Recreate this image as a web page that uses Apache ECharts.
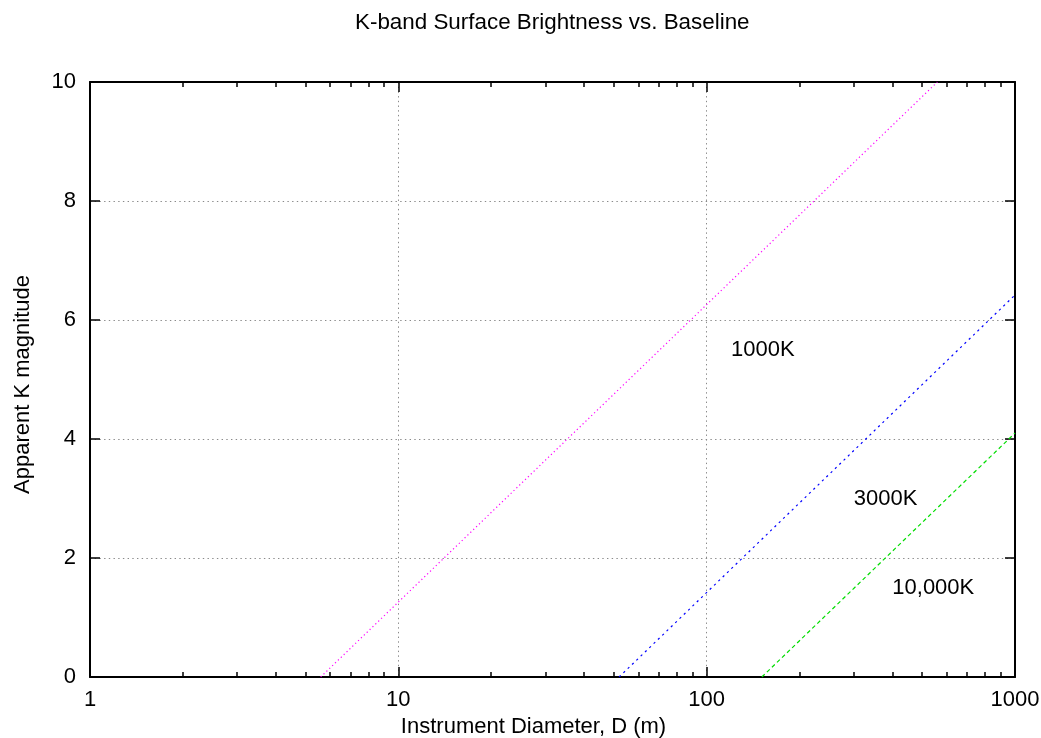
<!DOCTYPE html>
<html>
<head>
<meta charset="utf-8">
<script src="https://cdn.jsdelivr.net/npm/echarts@6/dist/echarts.min.js"></script>
<style>
  html, body { margin: 0; padding: 0; background: #fff; }
  #chart { width: 1041px; height: 738px; }
</style>
</head>
<body>
<div id="chart"></div>
<script>
// Apparent K-band magnitude at which a source of given temperature is
// resolved by an instrument of diameter D (straight lines in log D).
const magenta1000K = [[5.6, 0], [560, 10]];
const blue3000K = [[52, 0], [1000, 6.42]];
const green10000K = [[151, 0], [1000, 4.1]];

// Curve labels placed in data coordinates
const labelNames = ['1000K', '3000K', '10,000K'];
const labelX = [120, 300, 400];
const labelY = [5.5, 3, 1.5];

// Axis ticks
const xMajorTicks = [1, 10, 100, 1000];
const xMinorTicks = [2, 3, 4, 5, 6, 7, 8, 9, 20, 30, 40, 50, 60, 70, 80, 90,
                     200, 300, 400, 500, 600, 700, 800, 900];
const yTicks = [0, 2, 4, 6, 8, 10];

const FONT = 'Liberation Sans, Arial, Helvetica, sans-serif';
const gridDash = { color: '#8a8a8a', width: 1, type: [1.4, 3.3] };

function xAxisDef(pos, ticks, len, withLine, withLabels, withSplit) {
  return {
    type: 'log', logBase: 10, min: 1, max: 1000, position: pos,
    axisLine: { show: withLine, onZero: false, lineStyle: { color: '#000', width: 2 } },
    axisTick: { show: true, inside: true, length: len, customValues: ticks,
                lineStyle: { color: '#000', width: 1.5 } },
    axisLabel: { show: withLabels, customValues: xMajorTicks, margin: 12,
                 formatter: v => String(v),
                 color: '#000', fontFamily: FONT, fontSize: 22 },
    splitLine: { show: withSplit, lineStyle: gridDash },
    name: withLabels ? 'Instrument Diameter, D (m)' : '',
    nameLocation: 'middle', nameGap: 25,
    nameTextStyle: { color: '#000', fontFamily: FONT, fontSize: 22, padding: [0, 38, 0, 0] }
  };
}

const chart = echarts.init(document.getElementById('chart'), null, { renderer: 'canvas' });
chart.setOption({
  backgroundColor: '#fff',
  animation: false,
  title: {
    text: 'K-band Surface Brightness vs. Baseline',
    left: 350, top: 7,
    textStyle: { color: '#000', fontFamily: FONT, fontSize: 22.4, fontWeight: 'normal' }
  },
  grid: { left: 90, right: 26, top: 82, bottom: 61, containLabel: false, outerBoundsMode: 'none' },
  xAxis: [
    xAxisDef('bottom', xMajorTicks, 10, true, true, true),
    xAxisDef('bottom', xMinorTicks, 5, false, false, false),
    xAxisDef('top', xMajorTicks, 10, true, false, false),
    xAxisDef('top', xMinorTicks, 5, false, false, false)
  ],
  yAxis: [
    {
      type: 'value', min: 0, max: 10, interval: 2, position: 'left',
      axisLine: { show: true, onZero: false, lineStyle: { color: '#000', width: 2 } },
      axisTick: { show: true, inside: true, length: 10, customValues: yTicks,
                  lineStyle: { color: '#000', width: 1.5 } },
      axisLabel: { customValues: yTicks, margin: 14, color: '#000', fontFamily: FONT, fontSize: 22 },
      splitLine: { show: true, lineStyle: gridDash },
      name: 'Apparent K magnitude', nameLocation: 'middle', nameGap: 56,
      nameTextStyle: { color: '#000', fontFamily: FONT, fontSize: 22, padding: [0, 10, 0, 0] }
    },
    {
      type: 'value', min: 0, max: 10, interval: 2, position: 'right',
      axisLine: { show: true, onZero: false, lineStyle: { color: '#000', width: 2 } },
      axisTick: { show: true, inside: true, length: 10, customValues: yTicks,
                  lineStyle: { color: '#000', width: 1.5 } },
      axisLabel: { show: false },
      splitLine: { show: false }
    }
  ],
  series: [
    {
      name: '1000K', type: 'line', xAxisIndex: 0, yAxisIndex: 0,
      data: magenta1000K, showSymbol: false, silent: true,
      lineStyle: { color: '#ff00ff', width: 1.2, type: [1.2, 2.8] }
    },
    {
      name: '3000K', type: 'line', xAxisIndex: 0, yAxisIndex: 0,
      data: blue3000K, showSymbol: false, silent: true,
      lineStyle: { color: '#0000ff', width: 1.2, type: [2.2, 3.8] }
    },
    {
      name: '10,000K', type: 'line', xAxisIndex: 0, yAxisIndex: 0,
      data: green10000K, showSymbol: false, silent: true,
      lineStyle: { color: '#00dd00', width: 1.2, type: [4, 3] }
    },
    {
      name: 'labels', type: 'scatter', xAxisIndex: 0, yAxisIndex: 0,
      symbolSize: 0, silent: true,
      itemStyle: { opacity: 1 },
      data: labelNames.map((n, i) => ({ name: n, value: [labelX[i], labelY[i]] })),
      label: {
        show: true, position: 'right', distance: 0, opacity: 1,
        formatter: p => p.name,
        color: '#000', fontFamily: FONT, fontSize: 22, align: 'left', verticalAlign: 'middle'
      }
    }
  ]
});
</script>
</body>
</html>
